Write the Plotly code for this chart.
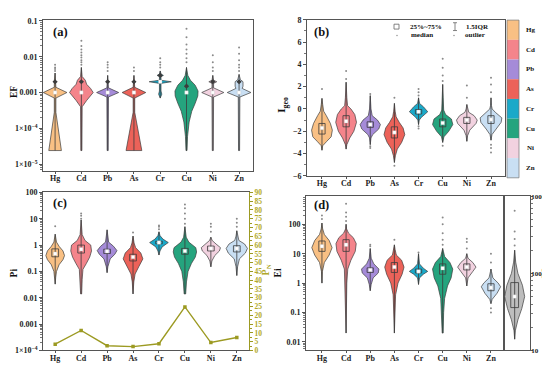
import plotly.graph_objects as go

W, H = 550, 365
elements = ["Hg", "Cd", "Pb", "As", "Cr", "Cu", "Ni", "Zn"]
colors = ["#F9C084", "#F4848B", "#A58BD8", "#EC6259", "#1AA9C9", "#25A47E", "#F2D2E0", "#C9DFF3"]
ri_color = "#BDBDBD"

# ---------------- Panel (a): EF  (violin outline: levels + half widths) ----------
ef_levels = {
    "Hg": [2.4e-5, 2.8e-4, 7e-4, 1e-3, 1.4e-3, 1.9e-3, 2.1e-3, 3.5e-3],
    "Cd": [2.4e-5, 4e-4, 6e-4, 1e-3, 1.3e-3, 1.7e-3, 2.2e-3, 2.8e-3, 5e-3],
    "Pb": [2.4e-5, 7.5e-4, 1e-3, 1.35e-3, 3e-3],
    "As": [2.4e-5, 2.8e-4, 7e-4, 1e-3, 1.4e-3, 3e-3],
    "Cr": [7e-4, 9e-4, 1.1e-3, 1.8e-3, 2e-3, 2.2e-3, 2.8e-3, 3e-3, 3.3e-3, 4e-3],
    "Cu": [2.4e-5, 6e-5, 1.5e-4, 3e-4, 5e-4, 8e-4, 1.1e-3, 1.6e-3, 2.2e-3, 3e-3, 5e-3],
    "Ni": [2.4e-5, 7.5e-4, 1e-3, 1.35e-3, 1.8e-3, 2e-3, 2.2e-3, 3e-3],
    "Zn": [2.4e-5, 7.5e-4, 1e-3, 1.3e-3, 1.5e-3, 2e-3, 2.3e-3, 3.2e-3],
}
ef_widths = {
    "Hg": [0.24, 0.03, 0.03, 0.45, 0.03, 0.03, 0.03, 0.0],
    "Cd": [0.02, 0.03, 0.2, 0.45, 0.35, 0.2, 0.15, 0.03, 0.0],
    "Pb": [0.02, 0.03, 0.42, 0.03, 0.0],
    "As": [0.3, 0.03, 0.03, 0.45, 0.03, 0.0],
    "Cr": [0.0, 0.06, 0.03, 0.03, 0.42, 0.03, 0.03, 0.12, 0.03, 0.0],
    "Cu": [0.02, 0.04, 0.1, 0.2, 0.33, 0.43, 0.44, 0.33, 0.15, 0.05, 0.0],
    "Ni": [0.02, 0.03, 0.42, 0.03, 0.03, 0.15, 0.03, 0.0],
    "Zn": [0.02, 0.03, 0.45, 0.12, 0.15, 0.15, 0.05, 0.0],
}
ef_median = [1e-3, 1e-3, 1e-3, 1e-3, 2e-3, 1e-3, 1e-3, 1e-3]
ef_q3 = [2e-3, 2e-3, 2e-3, 2e-3, 3e-3, 1.5e-3, 2e-3, 2e-3]
ef_outliers = {
    "Hg": [4e-3, 4.5e-3, 5e-3, 6e-3],
    "Cd": [6e-3, 7e-3, 8e-3, 9.5e-3, 1.1e-2, 1.3e-2, 1.6e-2, 2e-2, 2.8e-2],
    "Pb": [4e-3, 5e-3, 6e-3, 7e-3],
    "As": [4e-3, 5e-3],
    "Cr": [5e-3, 6e-3, 7e-3, 9e-3],
    "Cu": [7e-3, 9e-3, 1.2e-2, 1.6e-2, 2.2e-2, 3.5e-2, 6e-2],
    "Ni": [4e-3, 5e-3, 7e-3, 1.1e-2],
    "Zn": [4e-3, 5e-3, 6e-3, 8e-3, 1.2e-2, 1.8e-2],
}

# ---------------- Panel (b): Igeo ----------------
igeo_levels = {
    "Hg": [-3.7, -3.3, -2.9, -2.5, -1.9, -1.3, -0.6, -0.2, 0.4, 0.95],
    "Cd": [-3.6, -3.2, -2.6, -2.0, -1.2, -0.5, 0.0, 0.3, 1.0, 2.4],
    "Pb": [-3.2, -2.6, -2.3, -1.8, -1.4, -1.0, -0.6, 0.0, 1.2],
    "As": [-4.8, -4.2, -3.6, -3.0, -2.3, -1.7, -1.2, -0.7, -0.2, 0.5],
    "Cr": [-1.4, -1.0, -0.75, -0.25, 0.2, 0.5, 1.0],
    "Cu": [-3.0, -2.5, -2.0, -1.4, -0.9, -0.5, -0.1, 1.0, 2.2],
    "Ni": [-2.9, -2.4, -1.9, -1.3, -1.0, -0.6, -0.3, 0.0, 0.4],
    "Zn": [-2.8, -2.3, -1.8, -1.2, -0.8, -0.3, 0.0, 0.3, 1.0],
}
igeo_widths = {
    "Hg": [0.0, 0.03, 0.2, 0.38, 0.43, 0.35, 0.18, 0.07, 0.03, 0.0],
    "Cd": [0.0, 0.03, 0.15, 0.32, 0.43, 0.36, 0.2, 0.06, 0.03, 0.0],
    "Pb": [0.0, 0.03, 0.1, 0.35, 0.42, 0.3, 0.08, 0.03, 0.0],
    "As": [0.0, 0.04, 0.12, 0.3, 0.43, 0.36, 0.2, 0.07, 0.03, 0.0],
    "Cr": [0.0, 0.03, 0.12, 0.38, 0.2, 0.04, 0.0],
    "Cu": [0.0, 0.05, 0.25, 0.42, 0.36, 0.12, 0.04, 0.02, 0.0],
    "Ni": [0.0, 0.03, 0.12, 0.38, 0.43, 0.3, 0.08, 0.03, 0.0],
    "Zn": [0.0, 0.04, 0.2, 0.42, 0.45, 0.18, 0.05, 0.02, 0.0],
}
igeo_q1 = [-2.25, -1.6, -1.65, -2.6, -0.45, -1.6, -1.3, -1.3]
igeo_median = [-1.7, -1.1, -1.4, -2.1, -0.25, -1.25, -1.0, -0.95]
igeo_q3 = [-1.3, -0.6, -1.15, -1.6, -0.05, -0.9, -0.75, -0.6]
igeo_outliers = {
    "Hg": [1.8],
    "Cd": [2.7, 3.4],
    "Pb": [1.35, -3.35, -3.5],
    "As": [1.0, -5.1],
    "Cr": [1.2, 1.5, 1.8, -1.55, -1.75],
    "Cu": [2.5, 3.0, 3.7, 4.5, -3.3],
    "Ni": [1.0, 2.1],
    "Zn": [1.5, 2.2, 2.8, -3.2, -3.5, -3.9],
}

# ---------------- Panel (c): Pi and PN ----------------
pi_levels = {
    "Hg": [0.033, 0.06, 0.1, 0.18, 0.28, 0.4, 0.6, 0.9, 1.3, 2.6],
    "Cd": [0.014, 0.05, 0.12, 0.2, 0.35, 0.6, 1.0, 1.5, 2.5, 9.0],
    "Pb": [0.09, 0.15, 0.3, 0.45, 0.62, 0.9, 1.3, 3.8],
    "As": [0.014, 0.04, 0.08, 0.15, 0.3, 0.5, 0.8, 1.2, 2.2],
    "Cr": [0.42, 0.6, 0.85, 1.25, 1.7, 2.3, 3.2],
    "Cu": [0.014, 0.04, 0.1, 0.2, 0.35, 0.55, 0.8, 1.3, 2.0, 5.0],
    "Ni": [0.15, 0.25, 0.4, 0.6, 0.8, 1.1, 1.5, 2.0],
    "Zn": [0.07, 0.15, 0.3, 0.5, 0.75, 1.1, 1.5, 2.2, 3.5],
}
pi_widths = {
    "Hg": [0.0, 0.02, 0.05, 0.15, 0.3, 0.36, 0.3, 0.15, 0.05, 0.0],
    "Cd": [0.02, 0.04, 0.07, 0.2, 0.33, 0.4, 0.37, 0.15, 0.04, 0.0],
    "Pb": [0.0, 0.03, 0.12, 0.3, 0.38, 0.25, 0.06, 0.0],
    "As": [0.0, 0.03, 0.08, 0.22, 0.38, 0.3, 0.1, 0.04, 0.0],
    "Cr": [0.0, 0.04, 0.12, 0.36, 0.15, 0.04, 0.0],
    "Cu": [0.03, 0.06, 0.12, 0.25, 0.4, 0.45, 0.42, 0.15, 0.05, 0.0],
    "Ni": [0.0, 0.04, 0.15, 0.33, 0.37, 0.2, 0.05, 0.0],
    "Zn": [0.0, 0.03, 0.1, 0.33, 0.41, 0.3, 0.08, 0.03, 0.0],
}
pi_q1 = [0.36, 0.5, 0.48, 0.25, 1.12, 0.45, 0.6, 0.55]
pi_median = [0.47, 0.7, 0.58, 0.35, 1.25, 0.6, 0.75, 0.75]
pi_q3 = [0.72, 1.0, 0.7, 0.45, 1.4, 0.75, 0.92, 0.95]
pi_outliers = {
    "Hg": [5.2],
    "Cd": [10.0, 13.0, 16.0],
    "Pb": [],
    "As": [3.0],
    "Cr": [4.0, 5.0, 5.6],
    "Cu": [6.5, 10.0, 16.0, 25.0, 35.0],
    "Ni": [3.2, 5.0, 6.5],
    "Zn": [5.0, 7.0, 10.0],
}
pn_values = [3.6, 11.4, 2.7, 2.2, 3.8, 24.8, 4.5, 7.4]

# ---------------- Panel (d): Ei and RI ----------------
ei_levels = {
    "Hg": [1.0, 2.5, 5, 9, 16, 28, 45, 70, 110],
    "Cd": [0.02, 0.1, 1, 3, 6, 12, 22, 35, 50, 70, 100],
    "Pb": [0.55, 0.9, 1.5, 2.2, 3, 4.5, 7, 15],
    "As": [0.02, 0.1, 0.4, 1, 2, 3.5, 6, 9, 14, 20],
    "Cr": [0.9, 1.5, 2, 2.5, 3.2, 4.5, 10],
    "Cu": [0.02, 0.1, 0.3, 0.8, 1.5, 3, 5, 8, 12, 15],
    "Ni": [0.8, 1.5, 2.5, 3.5, 5, 7, 10],
    "Zn": [0.2, 0.28, 0.45, 0.75, 1.0, 1.5, 2.5, 3],
}
ei_widths = {
    "Hg": [0.0, 0.02, 0.1, 0.3, 0.42, 0.3, 0.1, 0.03, 0.0],
    "Cd": [0.0, 0.02, 0.03, 0.07, 0.2, 0.38, 0.42, 0.3, 0.1, 0.02, 0.0],
    "Pb": [0.0, 0.04, 0.12, 0.33, 0.36, 0.15, 0.04, 0.0],
    "As": [0.0, 0.02, 0.05, 0.15, 0.32, 0.4, 0.3, 0.08, 0.03, 0.0],
    "Cr": [0.0, 0.04, 0.2, 0.38, 0.2, 0.04, 0.0],
    "Cu": [0.02, 0.04, 0.08, 0.2, 0.35, 0.42, 0.3, 0.08, 0.03, 0.0],
    "Ni": [0.0, 0.05, 0.25, 0.38, 0.25, 0.05, 0.0],
    "Zn": [0.0, 0.05, 0.25, 0.4, 0.3, 0.08, 0.02, 0.0],
}
ei_q1 = [12, 12, 2.3, 2.3, 2.2, 2.0, 2.8, 0.55]
ei_median = [18, 20, 2.8, 3.5, 2.5, 3.2, 3.5, 0.7]
ei_q3 = [27, 30, 3.3, 5.0, 3.0, 4.5, 4.5, 0.95]
ei_outliers = {
    "Hg": [150, 200],
    "Cd": [130, 180, 250, 500],
    "Pb": [18, 20],
    "As": [30],
    "Cr": [11],
    "Cu": [20, 30, 50, 100, 170],
    "Ni": [15, 25, 32],
    "Zn": [0.1, 0.14, 5, 10],
}
ri_levels = [14, 18, 25, 35, 50, 70, 100, 140, 200]
ri_widths = [0.0, 0.05, 0.25, 0.55, 0.77, 0.6, 0.25, 0.08, 0.0]
ri_q1, ri_median, ri_q3 = 36, 50, 76
ri_outliers = [230, 280, 350, 650]

# ---------------- figure ----------------
FONT = "Liberation Serif, Times New Roman, serif"
OUT = "#3c3c3c"
fig = go.Figure()


def px_x(p):
    return p / W


def px_y(p):
    return 1 - p / H


def add_violin(xa, ya, xi, levels, widths, color, box=None, median=None, outl=None,
               q3mark=None, bw=0.13):
    xs = [xi - w for w in widths] + [xi + w for w in reversed(widths)] + [xi - widths[0]]
    ys = list(levels) + list(reversed(levels)) + [levels[0]]
    fig.add_trace(go.Scatter(x=xs, y=ys, xaxis=xa, yaxis=ya, mode="lines", fill="toself",
                             fillcolor=color, line=dict(color=OUT, width=0.7),
                             hoverinfo="skip", showlegend=False))
    fig.add_trace(go.Scatter(x=[xi, xi], y=[levels[0], levels[-1]], xaxis=xa, yaxis=ya,
                             mode="lines", line=dict(color=OUT, width=0.8),
                             hoverinfo="skip", showlegend=False))
    if box is not None:
        q1, q3 = box
        fig.add_trace(go.Scatter(x=[xi - bw, xi + bw, xi + bw, xi - bw, xi - bw],
                                 y=[q1, q1, q3, q3, q1], xaxis=xa, yaxis=ya, mode="lines",
                                 line=dict(color=OUT, width=0.8),
                                 hoverinfo="skip", showlegend=False))
    if q3mark is not None:
        fig.add_trace(go.Scatter(x=[xi], y=[q3mark], xaxis=xa, yaxis=ya, mode="markers",
                                 marker=dict(symbol="diamond", size=4, color=OUT),
                                 hoverinfo="skip", showlegend=False))
    if median is not None:
        fig.add_trace(go.Scatter(x=[xi], y=[median], xaxis=xa, yaxis=ya, mode="markers",
                                 marker=dict(symbol="square", size=3.5, color="white",
                                             line=dict(color="#bbbbbb", width=0.3)),
                                 hoverinfo="skip", showlegend=False))
    if outl:
        fig.add_trace(go.Scatter(x=[xi] * len(outl), y=outl, xaxis=xa, yaxis=ya,
                                 mode="markers",
                                 marker=dict(symbol="circle", size=2, color="#8a8a8a"),
                                 hoverinfo="skip", showlegend=False))


for i, el in enumerate(elements):
    add_violin("x", "y", i, ef_levels[el], ef_widths[el], colors[i],
               median=ef_median[i], outl=ef_outliers[el], q3mark=ef_q3[i])
    add_violin("x2", "y2", i, igeo_levels[el], igeo_widths[el], colors[i],
               box=(igeo_q1[i], igeo_q3[i]), median=igeo_median[i], outl=igeo_outliers[el])
    add_violin("x3", "y3", i, pi_levels[el], pi_widths[el], colors[i],
               box=(pi_q1[i], pi_q3[i]), median=pi_median[i], outl=pi_outliers[el])
    add_violin("x4", "y5", i, ei_levels[el], ei_widths[el], colors[i],
               box=(ei_q1[i], ei_q3[i]), median=ei_median[i], outl=ei_outliers[el])

add_violin("x5", "y6", 0, ri_levels, ri_widths, ri_color, box=(ri_q1, ri_q3),
           median=ri_median, outl=ri_outliers, bw=0.3)

OLIVE = "#9C9A22"
fig.add_trace(go.Scatter(x=list(range(8)), y=pn_values, xaxis="x3", yaxis="y4",
                         mode="lines+markers", line=dict(color=OLIVE, width=1.4),
                         marker=dict(symbol="square", size=3.5, color=OLIVE),
                         hoverinfo="skip", showlegend=False))

tickfont = dict(family=FONT, size=8, color="#222", weight=700)
catfont = dict(family=FONT, size=8, color="#222", weight=700)


def xaxis_cfg(domain, anchor, rng):
    return dict(domain=domain, anchor=anchor, range=rng, tickvals=list(range(8)),
                ticktext=elements, showline=True, linecolor="#555",
                linewidth=0.8, mirror=True, ticks="outside", ticklen=2,
                tickcolor="#555", tickfont=catfont, ticklabelstandoff=-2,
                showgrid=False, zeroline=False, fixedrange=True)


def logminor():
    return dict(ticks="outside", ticklen=1.8, tickcolor="#777", dtick="D1", showgrid=False)


# domains in paper coords
ax_a = [px_x(35), px_x(245)]
ay_a = [px_y(163), px_y(8)]
ax_b = [px_x(299), px_x(497)]
ay_b = [px_y(168), px_y(8)]
ax_c = [px_x(35), px_x(241)]
ay_c = [px_y(347), px_y(185)]
ax_d = [px_x(298), px_x(496)]
ay_d = [px_y(347), px_y(189)]
ax_r = [px_x(496), px_x(522)]

ycommon = dict(showline=True, linecolor="#555", linewidth=0.8, mirror=True, ticks="outside",
               ticklen=3, tickcolor="#555", tickfont=tickfont, showgrid=False,
               zeroline=False, fixedrange=True)

fig.update_layout(
    width=W, height=H, margin=dict(l=0, r=0, t=0, b=0),
    paper_bgcolor="white", plot_bgcolor="white",
    xaxis=xaxis_cfg(ax_a, "y", [-0.46, 7.53]),
    yaxis=dict(domain=ay_a, anchor="x", type="log", range=[-5.19, -0.97],
               tickvals=[1e-5, 1e-4, 1e-3, 1e-2, 1e-1],
               ticktext=["1×10<sup>−5</sup>", "1×10<sup>−4</sup>", "0.001", "0.01", "0.1"],
               minor=logminor(), **ycommon),
    xaxis2=xaxis_cfg(ax_b, "y2", [-0.62, 7.58]),
    yaxis2=dict(domain=ay_b, anchor="x2", range=[-6, 8], dtick=2,
                minor=dict(ticks="outside", ticklen=1.8, tickcolor="#777", dtick=1),
                **ycommon),
    xaxis3=xaxis_cfg(ax_c, "y3", [-0.47, 7.47]),
    yaxis3=dict(domain=ay_c, anchor="x3", type="log", range=[-4, 2],
                tickvals=[1e-4, 1e-3, 1e-2, 1e-1, 1, 10, 100],
                ticktext=["1×10<sup>−4</sup>", "0.001", "0.01", "0.1", "1", "10", "100"],
                minor=logminor(), **ycommon),
    yaxis4=dict(overlaying="y3", anchor="x3", side="right", range=[0, 90], dtick=5,
                showline=True, linecolor=OLIVE, linewidth=0.8, ticks="outside", ticklen=3,
                tickcolor=OLIVE, tickfont=dict(family=FONT, size=7.5, color="#B0A82A", weight=700),
                minor=dict(ticks="outside", ticklen=1.8, tickcolor=OLIVE, dtick=2.5),
                showgrid=False, zeroline=False, fixedrange=True),
    xaxis4=xaxis_cfg(ax_d, "y5", [-0.66, 7.54]),
    yaxis5=dict(domain=ay_d, anchor="x4", type="log", range=[-2.29, 2.95],
                tickvals=[0.01, 0.1, 1, 10, 100], ticktext=["0.01", "0.1", "1", "10", "100"],
                minor=logminor(), **ycommon),
    xaxis5=dict(domain=ax_r, anchor="y6", range=[-0.82, 1.18], showticklabels=False,
                ticks="", showline=True, linecolor="#555", linewidth=0.8, mirror=True,
                showgrid=False, zeroline=False, fixedrange=True),
    yaxis6=dict(domain=ay_d, anchor="x5", side="right", type="log", range=[1, 3],
                tickvals=[10, 100, 1000], ticktext=["10", "100", "1000"],
                minor=logminor(), showline=True, linecolor="#555", linewidth=0.8,
                mirror=True, ticks="outside", ticklen=2, tickcolor="#555",
                tickfont=dict(family=FONT, size=7, color="#222", weight=700),
                ticklabelstandoff=-3, showgrid=False, zeroline=False, fixedrange=True),
)

annots = []


def ann(text, x, y, size=9, angle=0, color="#111", xanchor="center"):
    annots.append(dict(text=text, x=px_x(x), y=px_y(y), xref="paper", yref="paper",
                       showarrow=False, textangle=angle, xanchor=xanchor, yanchor="middle",
                       font=dict(family=FONT, size=size, color=color, weight=700)))


ann("(a)", 52, 20, size=12.5)
ann("(b)", 313, 20, size=12.5)
ann("(c)", 52, 196, size=12.5)
ann("(d)", 313, 198, size=12.5)
ann("EF", -1, 82, size=9.5, angle=-90, xanchor="left")
ann("I<sub>geo</sub>", 274, 95, size=11, angle=-90)
ann("Pi", -1, 268, size=9.5, angle=-90, xanchor="left")
ann("P<sub>N</sub>", 258, 265, size=10, angle=-90, color="#B0A82A")
ann("Ei", 270, 268, size=9.5, angle=-90)
ann("RI", 537, 268, size=9, angle=-90)

# legend of panel (b)
ann("25%~75%", 400, 15, size=7, xanchor="left")
ann("1.5IQR", 456, 15, size=7, xanchor="left")
ann("median", 401, 24, size=7, xanchor="left")
ann("outlier", 455, 24, size=7, xanchor="left")

shapes = []
shapes.append(dict(type="rect", xref="paper", yref="paper", x0=px_x(386), x1=px_x(391),
                   y0=px_y(17.5), y1=px_y(12.5), line=dict(color="#666", width=0.8)))
shapes.append(dict(type="line", xref="paper", yref="paper", x0=px_x(447), x1=px_x(447),
                   y0=px_y(19), y1=px_y(11), line=dict(color="#666", width=0.8)))
for yy in (11, 19):
    shapes.append(dict(type="line", xref="paper", yref="paper", x0=px_x(445), x1=px_x(449),
                       y0=px_y(yy), y1=px_y(yy), line=dict(color="#666", width=0.8)))
for xx in (389, 446):
    shapes.append(dict(type="circle", xref="paper", yref="paper", x0=px_x(xx - 0.8),
                       x1=px_x(xx + 0.8), y0=px_y(24.8), y1=px_y(23.2),
                       fillcolor="#999", line=dict(width=0)))

# colour key next to panel (b)
top, bot = 8.3, 170.0
step = (bot - top) / len(elements)
for i, el in enumerate(elements):
    y0 = top + i * step
    shapes.append(dict(type="rect", xref="paper", yref="paper", x0=px_x(499), x1=px_x(511),
                       y0=px_y(y0 + step), y1=px_y(y0), fillcolor=colors[i],
                       line=dict(width=0)))
    ann(el, 522, y0 + step / 2, size=7)
shapes.append(dict(type="rect", xref="paper", yref="paper", x0=px_x(499), x1=px_x(511),
                   y0=px_y(bot), y1=px_y(top), line=dict(color="#777", width=0.7)))

fig.update_layout(annotations=annots, shapes=shapes)
fig.write_html("out.html")
